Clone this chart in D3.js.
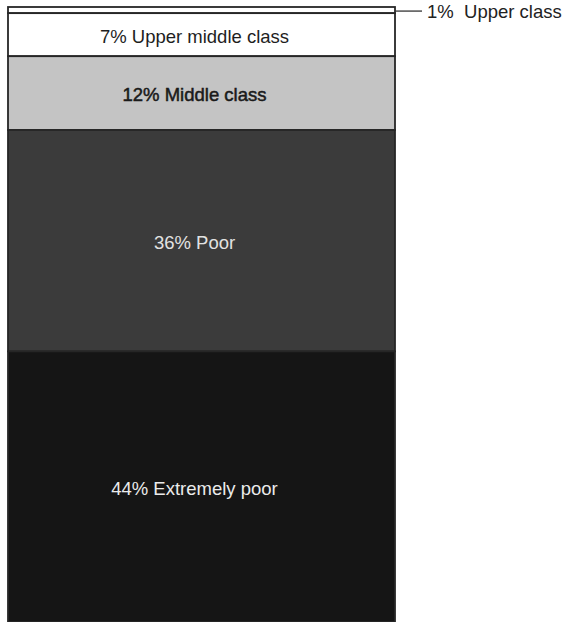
<!DOCTYPE html>
<html>
<head>
<meta charset="utf-8">
<script src="https://cdn.jsdelivr.net/npm/d3@7"></script>
<style>
  html, body { margin: 0; padding: 0; background: #ffffff; }
  svg { display: block; }
  text { font-family: "Liberation Sans", Arial, Helvetica, sans-serif; }
</style>
</head>
<body>
<svg id="chart" width="564" height="622"></svg>
<script>
// ---- data ----
const classes = ["Upper class", "Upper middle class", "Middle class", "Poor", "Extremely poor"];
const shares = [1, 7, 12, 36, 44];
const fills = ["#ffffff", "#ffffff", "#c4c4c4", "#3b3b3b", "#151515"];
const labelColors = ["#222222", "#1e1e1e", "#1a1a1a", "#e2e2e2", "#ebebeb"];
const insideLabel = [false, true, true, true, true];

// ---- layout ----
const svg = d3.select("#chart");

const x = d3.scaleBand().domain(["all"]).range([8, 395]).padding(0);
const y = d3.scaleLinear().domain([0, 100]).range([7, 622]);

const rows = classes.map((c, i) => ({ name: c, value: shares[i], fill: fills[i], color: labelColors[i], inside: insideLabel[i] }));
let acc = 0;
rows.forEach(r => { r.y0 = acc; acc += r.value; r.y1 = acc; });

const bx = x("all"), bw = x.bandwidth();

// segments
svg.append("g").selectAll("rect")
  .data(rows)
  .join("rect")
  .attr("x", bx)
  .attr("y", d => y(d.y0))
  .attr("width", bw)
  .attr("height", d => y(d.y1) - y(d.y0))
  .attr("fill", d => d.fill)
  .attr("stroke", "#262626")
  .attr("stroke-width", 1.8);

// inside labels
const labelShift = -7;
svg.append("g").selectAll("text")
  .data(rows.filter(d => d.inside))
  .join("text")
  .attr("x", bx + bw / 2 + labelShift)
  .attr("y", d => (y(d.y0) + y(d.y1)) / 2)
  .attr("dy", "0.45em")
  .attr("text-anchor", "middle")
  .attr("font-size", 18.5)
  .attr("fill", d => d.color)
  .attr("stroke", d => d.name === "Middle class" ? d.color : "none")
  .attr("stroke-width", 0.5)
  .text(d => `${d.value}% ${d.name}`);

// outside label with leader
const outside = rows.filter(d => !d.inside);
const g = svg.append("g");
outside.forEach(d => {
  const ym = (y(d.y0) + y(d.y1)) / 2 + 1;
  g.append("line")
    .attr("x1", bx + bw).attr("x2", bx + bw + 27)
    .attr("y1", ym).attr("y2", ym)
    .attr("stroke", "#333").attr("stroke-width", 1.3);
  g.append("text")
    .attr("x", bx + bw + 32)
    .attr("y", ym)
    .attr("dy", "0.38em")
    .attr("font-size", 18.5)
    .attr("fill", d.color)
    .attr("xml:space", "preserve")
    .text(`${d.value}%  ${d.name}`);
});
</script>
</body>
</html>
